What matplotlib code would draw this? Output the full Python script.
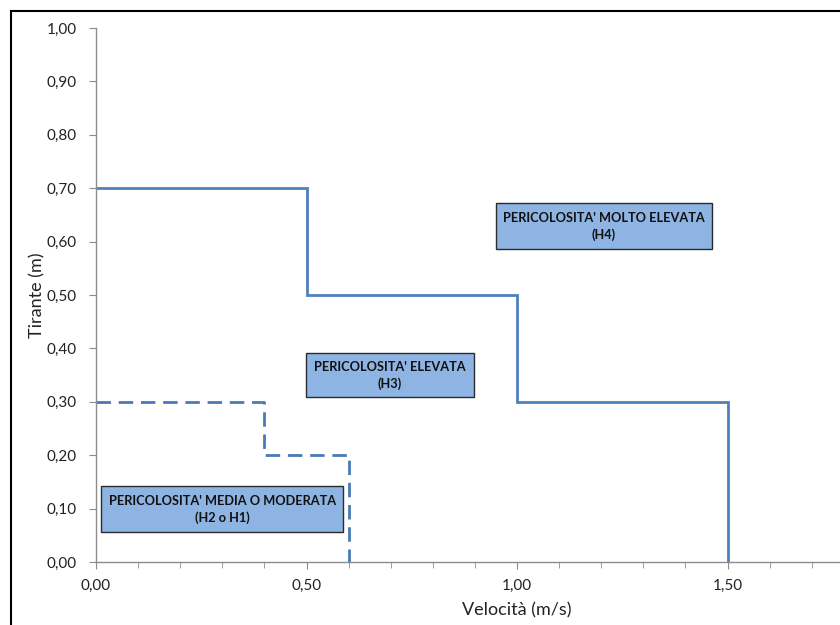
import matplotlib.pyplot as plt
from matplotlib.patches import Rectangle
from matplotlib.lines import Line2D
from matplotlib.ticker import MultipleLocator, FixedLocator, FuncFormatter

plt.rcParams['font.family'] = ['Lato', 'DejaVu Sans']

# soglie di pericolosita' (velocita' m/s, tirante m)
h4_vel = [0.0, 0.5, 0.5, 1.0, 1.0, 1.5, 1.5]
h4_tir = [0.7, 0.7, 0.5, 0.5, 0.3, 0.3, 0.0]
h2_vel = [0.0, 0.4, 0.4, 0.6, 0.6]
h2_tir = [0.3, 0.3, 0.2, 0.2, 0.0]

x_ticks = [0.0, 0.5, 1.0, 1.5]

labels = ["PERICOLOSITA' MOLTO ELEVATA\n(H4)",
          "PERICOLOSITA' ELEVATA\n(H3)",
          "PERICOLOSITA' MEDIA O MODERATA\n(H2 o H1)"]

line_col = '#4F81BD'
box_col = '#8EB4E3'

fig = plt.figure(figsize=(8.4, 6.25), dpi=100)
# l'asse x arriva a 2,00 ma il grafico e' tagliato sul bordo destro
ax = fig.add_axes([96 / 840, 63 / 625, 842 / 840, 534 / 625])

ax.plot(h4_vel, h4_tir, color=line_col, lw=2.0, solid_joinstyle='miter')
ax.plot(h2_vel, h2_tir, color='#4A7AB5', lw=2.0, ls=(0, (5.2, 2.8)))

# riquadri con le etichette
boxes = [(0.950, 0.586, 0.513, 0.086),
         (0.499, 0.309, 0.399, 0.082),
         (0.012, 0.056, 0.575, 0.086)]
for (x0, y0, w, h), lab in zip(boxes, labels):
    ax.add_patch(Rectangle((x0, y0), w, h, facecolor=box_col,
                           edgecolor='#2b2b2b', lw=1.0, zorder=3))
    ax.text(x0 + w / 2, y0 + h / 2, lab, ha='center', va='center',
            fontsize=9.2, fontweight='bold', color='#111111',
            linespacing=1.4, zorder=4)

ax.set_xlim(0, 2.0)
ax.set_ylim(0, 1.0)
ax.xaxis.set_major_locator(FixedLocator(x_ticks))
ax.xaxis.set_minor_locator(MultipleLocator(0.1))
ax.yaxis.set_major_locator(MultipleLocator(0.1))
fmt = FuncFormatter(lambda v, p: f"{v:.2f}".replace('.', ','))
ax.xaxis.set_major_formatter(fmt)
ax.yaxis.set_major_formatter(fmt)

for s in ['top', 'right']:
    ax.spines[s].set_visible(False)
for s in ['left', 'bottom']:
    ax.spines[s].set_color('#8c8c8c')
    ax.spines[s].set_linewidth(1.0)
ax.tick_params(axis='both', which='both', direction='out', color='#8c8c8c',
               labelsize=11, labelcolor='#222222')
ax.tick_params(axis='both', which='major', length=5)
ax.tick_params(axis='x', which='minor', length=4)
ax.tick_params(axis='x', pad=7)
ax.tick_params(axis='y', pad=9)

ax.set_xlabel('Velocità (m/s)', fontsize=13, color='#222222', labelpad=7)
ax.set_ylabel('Tirante (m)', fontsize=13, color='#222222', labelpad=1)

# cornice esterna (tagliata a destra e in basso)
fig.add_artist(Line2D([11 / 840, 11 / 840], [0, 1 - 11 / 625],
                      transform=fig.transFigure, color='black', lw=1.5))
fig.add_artist(Line2D([11 / 840, 1], [1 - 11 / 625, 1 - 11 / 625],
                      transform=fig.transFigure, color='black', lw=1.5))

fig.savefig('out.png', dpi=100)
